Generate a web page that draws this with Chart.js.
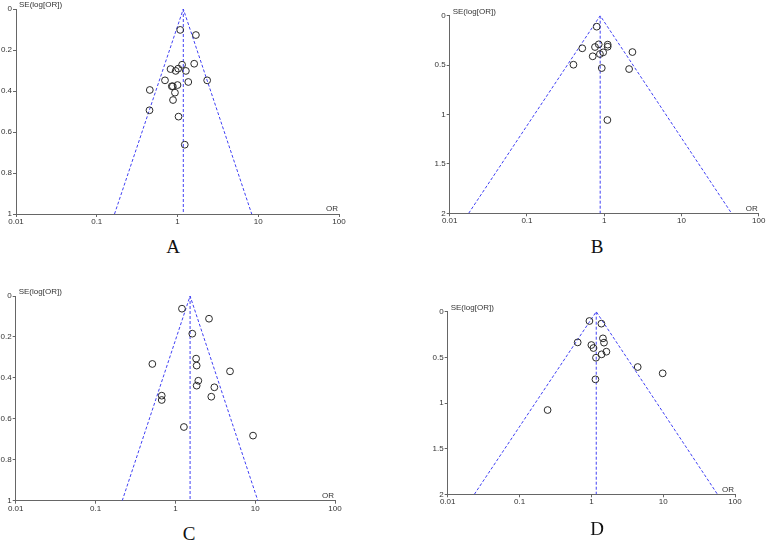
<!DOCTYPE html>
<html>
<head>
<meta charset="utf-8">
<script src="https://cdn.jsdelivr.net/npm/chart.js@4"></script>
<style>
  body { margin: 0; background: #fff; }
  #wrap { position: relative; width: 767px; height: 542px; overflow: hidden; }
  canvas { position: absolute; }
  .lbl { position: absolute; font-family: "Liberation Serif", serif; font-size: 19px; color: #111; transform: translateX(-50%); }
</style>
</head>
<body>
<div id="wrap">
  <canvas id="chartA" width="384" height="230" style="left:0;top:0"></canvas>
  <canvas id="chartB" width="383" height="230" style="left:384px;top:0"></canvas>
  <canvas id="chartC" width="384" height="240" style="left:0;top:280px"></canvas>
  <canvas id="chartD" width="383" height="230" style="left:384px;top:290px"></canvas>
  <div class="lbl" style="left:173px;top:236px">A</div>
  <div class="lbl" style="left:597px;top:236px">B</div>
  <div class="lbl" style="left:189px;top:523px">C</div>
  <div class="lbl" style="left:597px;top:518px">D</div>
</div>
<script>
// odds ratios and standard errors
const orA = [1.08, 1.69, 1.14, 1.61, 0.82, 1.02, 0.95, 1.27, 0.70, 2.33, 1.36, 1.0, 0.85, 0.875, 0.454, 0.93, 0.88, 0.45, 1.03, 1.23];
const seA = [0.102, 0.127, 0.272, 0.267, 0.293, 0.291, 0.302, 0.302, 0.348, 0.348, 0.356, 0.371, 0.377, 0.377, 0.395, 0.408, 0.444, 0.494, 0.525, 0.662];

const orB = [0.80, 0.85, 0.76, 1.11, 1.11, 0.52, 0.97, 0.88, 2.32, 0.71, 0.40, 0.93, 2.10, 1.10];
const seB = [0.111, 0.290, 0.317, 0.293, 0.314, 0.330, 0.371, 0.388, 0.368, 0.411, 0.496, 0.530, 0.540, 1.056];

const orC = [1.21, 2.64, 1.63, 1.82, 1.85, 0.515, 4.84, 1.94, 1.85, 3.08, 0.675, 0.675, 2.82, 1.28, 9.40];
const seC = [0.062, 0.111, 0.184, 0.306, 0.340, 0.332, 0.368, 0.414, 0.438, 0.446, 0.487, 0.508, 0.492, 0.640, 0.682];

const orD = [0.94, 1.38, 1.45, 1.50, 0.645, 1.0, 1.07, 1.62, 1.39, 1.16, 4.42, 9.84, 1.14, 0.246];
const seD = [0.102, 0.131, 0.292, 0.339, 0.336, 0.365, 0.398, 0.438, 0.467, 0.504, 0.606, 0.675, 0.741, 1.077];

// pooled OR (apex) and funnel limits at the bottom of each plot
const pooled = { A: 1.18, B: 0.887, C: 1.53, D: 1.17 };
const funnelLo = { A: 0.166, B: 0.0176, C: 0.216, D: 0.0235 };
const funnelHi = { A: 8.3, B: 44.5, C: 10.8, D: 57 };
const seMax = { A: 1, B: 2, C: 1, D: 2 };
const seStep = { A: 0.2, B: 0.5, C: 0.2, D: 0.5 };
const orTicks = [0.01, 0.1, 1, 10, 100];

const axisColor = '#666';
const funnelColor = '#4040f4';

const axisText = {
    id: 'axisText',
    afterDraw(chart) {
        const ctx = chart.ctx;
        const a = chart.chartArea;
        ctx.save();
        ctx.fillStyle = '#333';
        ctx.font = '8px "Liberation Sans", Arial, sans-serif';
        ctx.textBaseline = 'middle';
        ctx.textAlign = 'left';
        ctx.fillText('SE(log[OR])', a.left + 3, a.top - 4);
        ctx.textAlign = 'right';
        ctx.fillText('OR', a.right - 1, a.bottom - 5);
        ctx.restore();
    }
};

function drawFunnel(id, key, ors, ses, pad, yWidth, xHeight) {
    const points = ors.map((v, i) => ({ x: v, y: ses[i] }));
    const p = pooled[key];
    const m = seMax[key];
    new Chart(document.getElementById(id), {
        type: 'scatter',
        data: {
            datasets: [{
                data: points,
                pointStyle: 'circle',
                pointRadius: 3.4,
                pointBorderWidth: 1,
                pointBackgroundColor: 'rgba(0,0,0,0)',
                pointBorderColor: '#2a2a2a'
            }, {
                type: 'line',
                data: [{ x: funnelLo[key], y: m }, { x: p, y: 0 }, { x: funnelHi[key], y: m }],
                borderColor: funnelColor,
                borderWidth: 1,
                borderDash: [3, 2],
                pointRadius: 0,
                fill: false
            }, {
                type: 'line',
                data: [{ x: p, y: 0 }, { x: p, y: m }],
                borderColor: funnelColor,
                borderWidth: 1,
                borderDash: [3, 2],
                pointRadius: 0,
                fill: false
            }]
        },
        options: {
            responsive: false,
            animation: false,
            layout: { padding: pad },
            plugins: { legend: { display: false }, tooltip: { enabled: false } },
            scales: {
                x: {
                    type: 'logarithmic',
                    min: 0.01,
                    max: 100,
                    afterBuildTicks: s => { s.ticks = orTicks.map(v => ({ value: v })); },
                    afterFit: s => { s.height = xHeight; },
                    ticks: {
                        callback: v => String(v),
                        color: '#333',
                        font: { size: 8, family: '"Liberation Sans", Arial, sans-serif' },
                        padding: 0,
                        maxRotation: 0,
                        autoSkip: false
                    },
                    grid: { drawOnChartArea: false, tickLength: 3, color: axisColor },
                    border: { color: axisColor }
                },
                y: {
                    reverse: true,
                    min: 0,
                    max: m,
                    afterFit: s => { s.width = yWidth; },
                    ticks: {
                        stepSize: seStep[key],
                        callback: v => String(+v.toFixed(2)),
                        color: '#333',
                        font: { size: 8, family: '"Liberation Sans", Arial, sans-serif' },
                        padding: 1
                    },
                    grid: { drawOnChartArea: false, tickLength: 3, color: axisColor },
                    border: { color: axisColor }
                }
            }
        },
        plugins: [axisText]
    });
}

drawFunnel('chartA', 'A', orA, seA, { left: 0, top: 9, right: 45, bottom: 0 }, 16, 16);
drawFunnel('chartB', 'B', orB, seB, { left: 0, top: 15.7, right: 8.3, bottom: 0 }, 65.7, 16.7);
drawFunnel('chartC', 'C', orC, seC, { left: 0, top: 16, right: 49, bottom: 0 }, 15.7, 19.3);
drawFunnel('chartD', 'D', orD, seD, { left: 0, top: 21.7, right: 32, bottom: 0 }, 63.7, 25.7);
</script>
</body>
</html>
